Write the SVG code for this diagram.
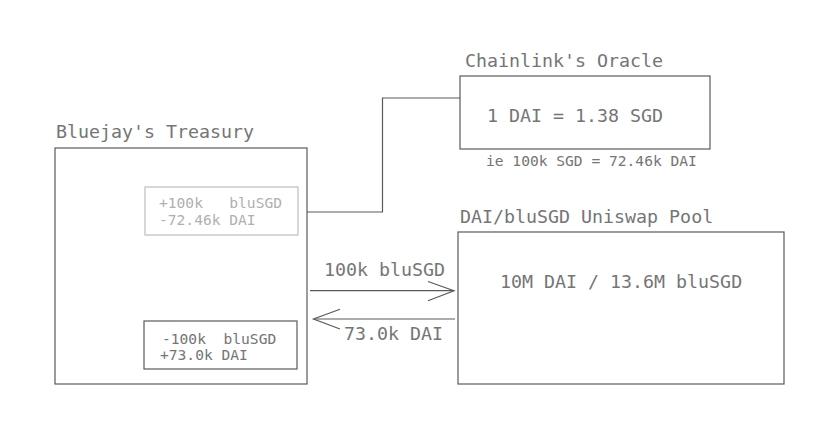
<svg xmlns="http://www.w3.org/2000/svg" width="828" height="433" viewBox="0 0 828 433">
<style>
text{font-family:"DejaVu Sans Mono","Liberation Mono",monospace;fill:#757575}
.t{font-size:18.3px}
.s{font-size:14.6px}
.box{fill:none;stroke:#5a5a5a;stroke-width:1.2}
.lbox{fill:none;stroke:#bdbdbd;stroke-width:1.2}
.lt{fill:#b0b0b0}
.c{fill:none;stroke:#5a5a5a;stroke-width:1.2}
</style>
<rect width="828" height="433" fill="#fff"/>
<g id="treasury">
<text class="t" x="56" y="138">Bluejay's Treasury</text>
<rect class="box" x="55" y="148" width="252" height="236"/>
</g>
<g id="treasury-expected">
<rect class="lbox" x="145" y="187" width="153" height="48"/>
<text class="s lt" x="159" y="208" xml:space="preserve">+100k   bluSGD</text>
<text class="s lt" x="159" y="225">-72.46k DAI</text>
</g>
<g id="treasury-actual">
<rect class="box" x="144" y="321" width="153" height="48"/>
<text class="s" x="162" y="344" xml:space="preserve">-100k  bluSGD</text>
<text class="s" x="160" y="360">+73.0k DAI</text>
</g>
<g id="oracle">
<text class="t" x="465" y="67">Chainlink's Oracle</text>
<rect class="box" x="460" y="76" width="250" height="73"/>
<text class="t" x="487" y="122">1 DAI = 1.38 SGD</text>
<text class="s" x="486" y="166">ie 100k SGD = 72.46k DAI</text>
</g>
<g id="pool">
<text class="t" x="460" y="223">DAI/bluSGD Uniswap Pool</text>
<rect class="box" x="458" y="232" width="326" height="152"/>
<text class="t" x="500" y="288">10M DAI / 13.6M bluSGD</text>
</g>
<g id="connectors">
<polyline class="c" points="307,212 382.5,212 382.5,98 460,98"/>
<line class="c" x1="310" y1="290.7" x2="454" y2="290.7"/>
<polyline class="c" points="428,281.5 454,290.7 428,300.7"/>
<text class="t" x="324" y="276">100k bluSGD</text>
<line class="c" x1="455" y1="319" x2="313.5" y2="319"/>
<polyline class="c" points="340,309.3 313.5,319 340,329"/>
<text class="t" x="344" y="340">73.0k DAI</text>
</g>
</svg>
